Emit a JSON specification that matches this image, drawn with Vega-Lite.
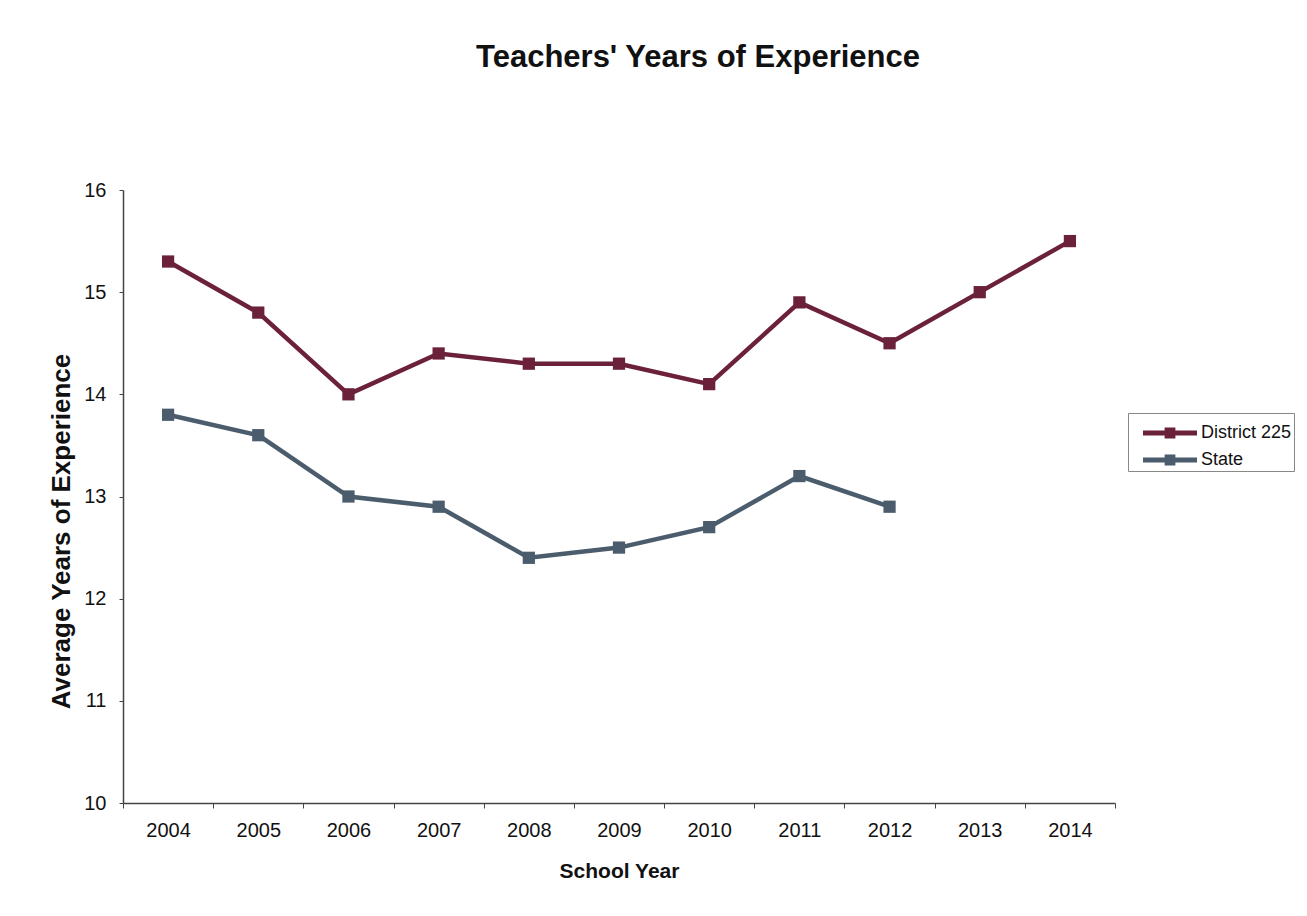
{
  "$schema": "https://vega.github.io/schema/vega-lite/v6.json",
  "autosize": {"type": "none"},
  "width": 992,
  "height": 613,
  "padding": {"left": 123, "top": 190, "right": 192, "bottom": 113},
  "background": "white",
  "title": {
    "text": "Teachers' Years of Experience",
    "font": "Liberation Sans",
    "fontSize": 31,
    "fontWeight": "bold",
    "color": "#111",
    "anchor": "middle",
    "frame": "group",
    "baseline": "alphabetic",
    "offset": 82,
    "dx": 79
  },
  "config": {
    "view": {"stroke": null},
    "font": "Liberation Sans",
    "axis": {"labelFont": "Liberation Sans", "titleFont": "Liberation Sans", "labelColor": "#111", "titleColor": "#111", "domainColor": "#444", "tickColor": "#444", "grid": false}
  },
  "data": {
    "values": [
      {"year": "2004", "series": "District 225", "value": 15.3},
      {"year": "2005", "series": "District 225", "value": 14.8},
      {"year": "2006", "series": "District 225", "value": 14.0},
      {"year": "2007", "series": "District 225", "value": 14.4},
      {"year": "2008", "series": "District 225", "value": 14.3},
      {"year": "2009", "series": "District 225", "value": 14.3},
      {"year": "2010", "series": "District 225", "value": 14.1},
      {"year": "2011", "series": "District 225", "value": 14.9},
      {"year": "2012", "series": "District 225", "value": 14.5},
      {"year": "2013", "series": "District 225", "value": 15.0},
      {"year": "2014", "series": "District 225", "value": 15.5},
      {"year": "2004", "series": "State", "value": 13.8},
      {"year": "2005", "series": "State", "value": 13.6},
      {"year": "2006", "series": "State", "value": 13.0},
      {"year": "2007", "series": "State", "value": 12.9},
      {"year": "2008", "series": "State", "value": 12.4},
      {"year": "2009", "series": "State", "value": 12.5},
      {"year": "2010", "series": "State", "value": 12.7},
      {"year": "2011", "series": "State", "value": 13.2},
      {"year": "2012", "series": "State", "value": 12.9}
    ]
  },
  "encoding": {
    "x": {
      "field": "year",
      "type": "ordinal",
      "scale": {"type": "band", "paddingInner": 0, "paddingOuter": 0, "domain": ["2004","2005","2006","2007","2008","2009","2010","2011","2012","2013","2014"]},
      "axis": {
        "title": "School Year",
        "titleFontSize": 21,
        "titleFontWeight": "bold",
        "titlePadding": 20,
        "labelFontSize": 20,
        "labelAngle": 0,
        "labelPadding": 12,
        "tickSize": 5,
        "tickBand": "extent",
        "domainWidth": 1.5
      }
    },
    "y": {
      "field": "value",
      "type": "quantitative",
      "scale": {"domain": [10, 16], "nice": false, "zero": false},
      "axis": {
        "title": "Average Years of Experience",
        "titleFontSize": 26,
        "titleFontWeight": "bold",
        "titleBaseline": "middle",
        "titleX": -62,
        "titleY": 341,
        "labelFontSize": 20,
        "labelPadding": 13,
        "tickSize": 4,
        "values": [10, 11, 12, 13, 14, 15, 16],
        "domainWidth": 1.5
      }
    },
    "color": {
      "field": "series",
      "type": "nominal",
      "scale": {"domain": ["District 225", "State"], "range": ["#6b2139", "#4b5d6d"]},
      "legend": {
        "title": null,
        "orient": "none",
        "legendX": 1005,
        "legendY": 223,
        "padding": 2,
        "strokeColor": "#888",
        "fillColor": "white",
        "labelFont": "Liberation Sans",
        "labelFontSize": 18,
        "labelColor": "#111",
        "symbolSize": 1296,
        "symbolOffset": 22,
        "labelOffset": 13,
        "rowPadding": 0,
        "symbolType": "M-1.5,-0.14H1.5V0.14H-1.5Z M-0.3,-0.3H0.3V0.3H-0.3Z",
        "symbolStrokeWidth": 0,
        "encode": {
          "symbols": {
            "update": {
              "fill": {"scale": "color", "field": "value"},
              "stroke": {"value": "transparent"},
              "opacity": {"value": 1},
              "fillOpacity": {"value": 1}
            }
          }
        }
      }
    }
  },
  "layer": [
    {"mark": {"type": "line", "strokeWidth": 4.5}},
    {"mark": {"type": "square", "size": 150, "filled": true, "opacity": 1}}
  ]
}
